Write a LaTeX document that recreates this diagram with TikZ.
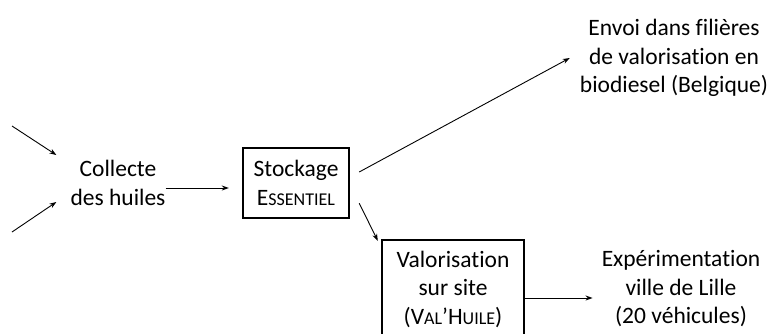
\documentclass[tikz,border=0pt]{standalone}
\usepackage{fontspec}
\setmainfont[Ligatures=NoCommon]{Carlito}
\usetikzlibrary{arrows.meta}
\newcommand{\petites}[1]{{\fontsize{18}{20}\selectfont #1}}

\begin{document}
\begin{tikzpicture}[
    x=1pt, y=-1pt,
    txt/.style={align=center, inner sep=2pt, font=\fontsize{23.5}{28.5}\selectfont},
    box/.style={txt, rectangle, draw, line width=2.4pt},
    arrow/.style={-{Stealth[length=7pt, width=5pt]}, line width=0.9pt}
]
\useasboundingbox (0,0) rectangle (773,333);

% collecte (left)
\node[txt] (collecte) at (118, 183) {Collecte\\des huiles};
\coordinate (in1) at (12, 126);
\coordinate (in2) at (12, 232);

% stockage box
\node[box, minimum width=106pt, minimum height=70pt] (stock) at (296, 183) {Stockage\\E\petites{SSENTIEL}};

% outputs
\node[txt] (envoi) at (674, 58) {Envoi dans filières\\de valorisation en\\biodiesel (Belgique)};
\node[box, minimum width=142pt, minimum height=98pt] (valor) at (453, 289) {Valorisation\\sur site\\(V\petites{AL}’H\petites{UILE})};
\node[txt] (experim) at (681, 289) {Expérimentation\\ville de Lille\\(20 véhicules)};

% Arrows
\draw[arrow] (in1) -- ([xshift=-12pt, yshift=28pt]collecte.west);
\draw[arrow] (in2) -- ([xshift=-12pt, yshift=-19pt]collecte.west);
\draw[arrow] ([xshift=-2pt, yshift=-5pt]collecte.east) -- ([xshift=-13pt, yshift=-5pt]stock.west);
\draw[arrow] ([xshift=9pt, yshift=11pt]stock.east) -- ([xshift=-8pt]envoi.west);
\draw[arrow] ([xshift=9pt, yshift=16pt]stock.south east) -- ([xshift=-3pt, yshift=-2pt]valor.north west);
\draw[arrow] ([yshift=-9pt]valor.east) -- ([xshift=-7pt, yshift=-9pt]experim.west);

\end{tikzpicture}
\end{document}
